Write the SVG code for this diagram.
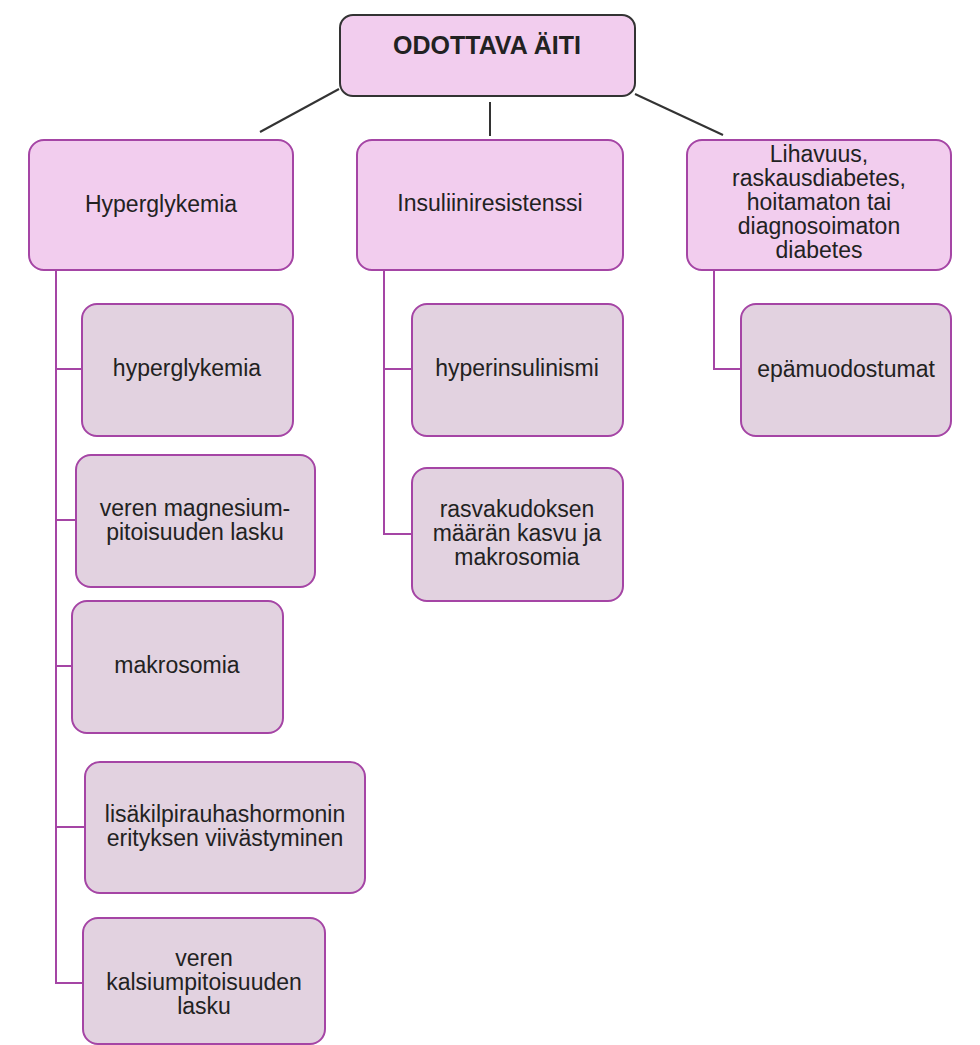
<svg xmlns="http://www.w3.org/2000/svg" width="980" height="1045" viewBox="0 0 980 1045">
<style>
  .bg{fill:#ffffff}
  .root{fill:#f2cdee;stroke:#333333;stroke-width:2}
  .parent{fill:#f2cdee;stroke:#a545a5;stroke-width:2}
  .child{fill:#e2d2e0;stroke:#a545a5;stroke-width:2}
  .t{font-family:"Liberation Sans",Arial,sans-serif;font-size:23px;fill:#222222;text-anchor:middle}
  .tb{font-family:"Liberation Sans",Arial,sans-serif;font-size:25px;font-weight:bold;fill:#222222;text-anchor:middle}
  .c1{stroke:#333333;stroke-width:2;fill:none}
  .c2{stroke:#a545a5;stroke-width:2;fill:none}
</style>
<rect class="bg" x="0" y="0" width="980" height="1045"/>
<g id="connectors">
  <line class="c1" x1="339" y1="89" x2="260" y2="132"/>
  <line class="c1" x1="490" y1="102" x2="490" y2="136"/>
  <line class="c1" x1="635" y1="94" x2="723" y2="135"/>
  <polyline class="c2" points="56,270 56,983 83,983"/>
  <line class="c2" x1="56" y1="369" x2="82" y2="369"/>
  <line class="c2" x1="56" y1="520" x2="76" y2="520"/>
  <line class="c2" x1="56" y1="666" x2="72" y2="666"/>
  <line class="c2" x1="56" y1="827" x2="85" y2="827"/>
  <polyline class="c2" points="384,270 384,534 412,534"/>
  <line class="c2" x1="384" y1="369" x2="412" y2="369"/>
  <polyline class="c2" points="714,270 714,369 741,369"/>
</g>
<g id="root">
  <rect class="root" x="340" y="15" width="295" height="81" rx="13"/>
  <text class="tb" x="487" y="54">ODOTTAVA ÄITI</text>
</g>
<g id="hyperglykemia-parent">
  <rect class="parent" x="29" y="140" width="264" height="130" rx="15"/>
  <text class="t" x="161" y="212">Hyperglykemia</text>
</g>
<g id="insuliiniresistenssi">
  <rect class="parent" x="357" y="140" width="266" height="130" rx="15"/>
  <text class="t" x="490" y="211">Insuliiniresistenssi</text>
</g>
<g id="lihavuus">
  <rect class="parent" x="687" y="140" width="264" height="130" rx="15"/>
  <text class="t" x="819" y="162">Lihavuus,</text>
  <text class="t" x="819" y="186">raskausdiabetes,</text>
  <text class="t" x="819" y="210">hoitamaton tai</text>
  <text class="t" x="819" y="234">diagnosoimaton</text>
  <text class="t" x="819" y="258">diabetes</text>
</g>
<g id="hyperglykemia-child">
  <rect class="child" x="82" y="304" width="211" height="132" rx="15"/>
  <text class="t" x="187" y="376">hyperglykemia</text>
</g>
<g id="magnesium">
  <rect class="child" x="76" y="455" width="239" height="132" rx="15"/>
  <text class="t" x="195" y="516">veren magnesium-</text>
  <text class="t" x="195" y="540">pitoisuuden lasku</text>
</g>
<g id="makrosomia">
  <rect class="child" x="72" y="601" width="211" height="132" rx="15"/>
  <text class="t" x="177" y="673">makrosomia</text>
</g>
<g id="lisakilpi">
  <rect class="child" x="85" y="762" width="280" height="131" rx="15"/>
  <text class="t" x="225" y="822">lisäkilpirauhashormonin</text>
  <text class="t" x="225" y="846">erityksen viivästyminen</text>
</g>
<g id="kalsium">
  <rect class="child" x="83" y="918" width="242" height="126" rx="15"/>
  <text class="t" x="204" y="966">veren</text>
  <text class="t" x="204" y="990">kalsiumpitoisuuden</text>
  <text class="t" x="204" y="1014">lasku</text>
</g>
<g id="hyperinsulinismi">
  <rect class="child" x="412" y="304" width="211" height="132" rx="15"/>
  <text class="t" x="517" y="376">hyperinsulinismi</text>
</g>
<g id="rasvakudos">
  <rect class="child" x="412" y="468" width="211" height="133" rx="15"/>
  <text class="t" x="517" y="517">rasvakudoksen</text>
  <text class="t" x="517" y="541">määrän kasvu ja</text>
  <text class="t" x="517" y="565">makrosomia</text>
</g>
<g id="epamuodostumat">
  <rect class="child" x="741" y="304" width="210" height="132" rx="15"/>
  <text class="t" x="846" y="377">epämuodostumat</text>
</g>
</svg>
